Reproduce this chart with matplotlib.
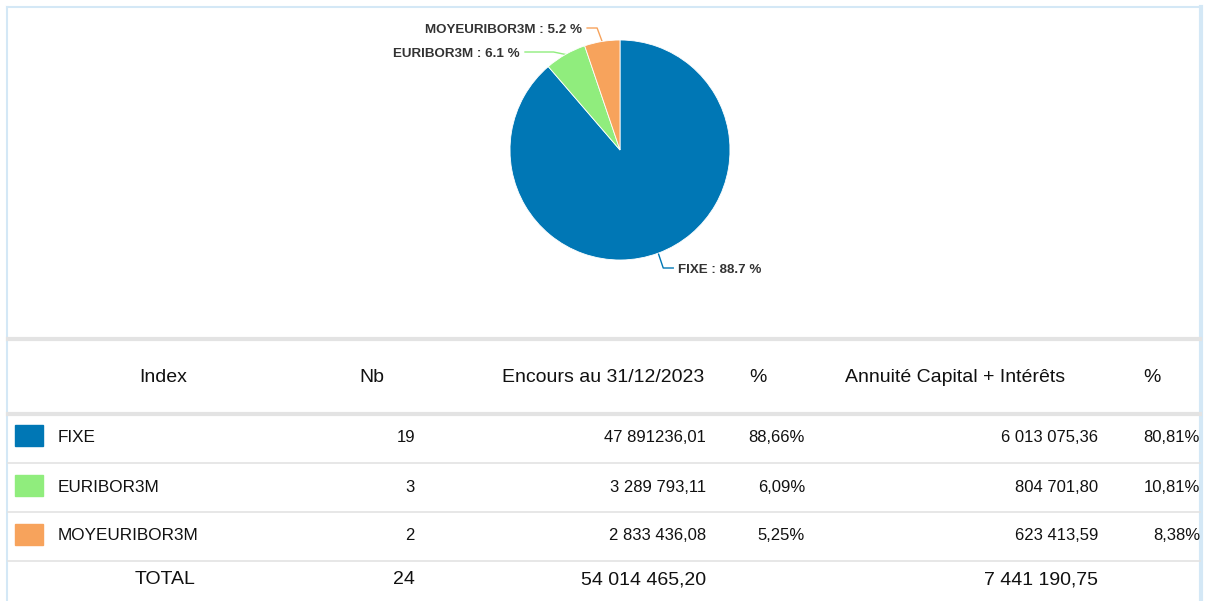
import numpy as np
import matplotlib
matplotlib.use('Agg')
import matplotlib.pyplot as plt
from matplotlib.patches import Rectangle

plt.rcParams['font.family'] = ['Liberation Sans', 'DejaVu Sans']

# data
index_names = ['FIXE', 'EURIBOR3M', 'MOYEURIBOR3M']
pie_pct = [88.7, 6.1, 5.2]
colors = ['#0077b5', '#90ed7d', '#f7a35c']
nb = ['19', '3', '2']
encours = ['47 891236,01', '3 289 793,11', '2 833 436,08']
encours_pct = ['88,66%', '6,09%', '5,25%']
annuite = ['6 013 075,36', '804 701,80', '623 413,59']
annuite_pct = ['80,81%', '10,81%', '8,38%']
headers = ['Index', 'Nb', 'Encours au 31/12/2023', '%', 'Annuité Capital + Intérêts', '%']
total = ['TOTAL', '24', '54 014 465,20', '7 441 190,75']

W, H = 1214, 601
fig = plt.figure(figsize=(W / 100, H / 100), dpi=100)
ax = fig.add_axes([0, 0, 1, 1])
ax.set_xlim(0, W)
ax.set_ylim(H, 0)
ax.axis('off')

# panel borders
border = '#d4e8f6'
ax.plot([7, 1201], [7, 7], color=border, lw=1.5)
ax.plot([7, 7], [7, H], color=border, lw=1.5)
ax.plot([1201, 1201], [7, H], color=border, lw=3)

# pie
cx, cy, R = 620, 150, 110
pax = fig.add_axes([(cx - R) / W, (H - cy - R) / H, 2 * R / W, 2 * R / H])
wedges, _ = pax.pie(pie_pct, colors=colors, startangle=90, counterclock=False,
                    radius=1, wedgeprops=dict(linewidth=0.6, edgecolor='white'))
pax.set_aspect('equal')
pax.set_xlim(-1, 1)
pax.set_ylim(-1, 1)

# data labels with connectors
label_y = [268, 52, 28]
for w, name, p, col, ly in zip(wedges, index_names, pie_pct, colors, label_y):
    a = np.deg2rad((w.theta1 + w.theta2) / 2)
    px, py = cx + R * np.cos(a), cy - R * np.sin(a)
    side = 1 if np.cos(a) > 0 else -1
    ex = px + side * 5
    hx = ex + side * 10 if side > 0 else ex - 10
    if name == 'EURIBOR3M':
        ex = px - 12
        hx = 525
    ax.plot([px, ex, hx], [py, ly, ly], color=col, lw=1)
    ax.text(hx + side * 5, ly + 2, f'{name} : {p} %', ha='left' if side > 0 else 'right',
            va='center', fontsize=9.6, fontweight='bold', color='#333333')

# table lines
sep = '#e3e3e3'
ax.plot([8, 1200], [339, 339], color=sep, lw=3)
ax.plot([8, 1200], [414, 414], color=sep, lw=3)
for yy in [463, 512, 561]:
    ax.plot([8, 1200], [yy, yy], color=sep, lw=1.2)

txt = '#111111'

# header
hx_pos = [163, 372, 603, 758, 955, 1152]
for x, t in zip(hx_pos, headers):
    ax.text(x, 377, t, ha='center', va='center', fontsize=14, color=txt)

# rows
row_y = [436, 486, 535]
for i, y in enumerate(row_y):
    ax.add_patch(Rectangle((15, y - 11), 28, 21, color=colors[i]))
    ax.text(58, y + 1, index_names[i], ha='left', va='center', fontsize=12.3, color=txt)
    ax.text(415, y + 1, nb[i], ha='right', va='center', fontsize=12, color=txt)
    ax.text(706, y + 1, encours[i], ha='right', va='center', fontsize=12, color=txt)
    ax.text(805, y + 1, encours_pct[i], ha='right', va='center', fontsize=12, color=txt)
    ax.text(1098, y + 1, annuite[i], ha='right', va='center', fontsize=12, color=txt)
    ax.text(1200, y + 1, annuite_pct[i], ha='right', va='center', fontsize=12, color=txt)

# total
ty = 580
ax.text(165, ty, total[0], ha='center', va='center', fontsize=14, color=txt)
ax.text(415, ty, total[1], ha='right', va='center', fontsize=14, color=txt)
ax.text(706, ty, total[2], ha='right', va='center', fontsize=14, color=txt)
ax.text(1098, ty, total[3], ha='right', va='center', fontsize=14, color=txt)

fig.savefig('out.png', dpi=100, facecolor='white')
